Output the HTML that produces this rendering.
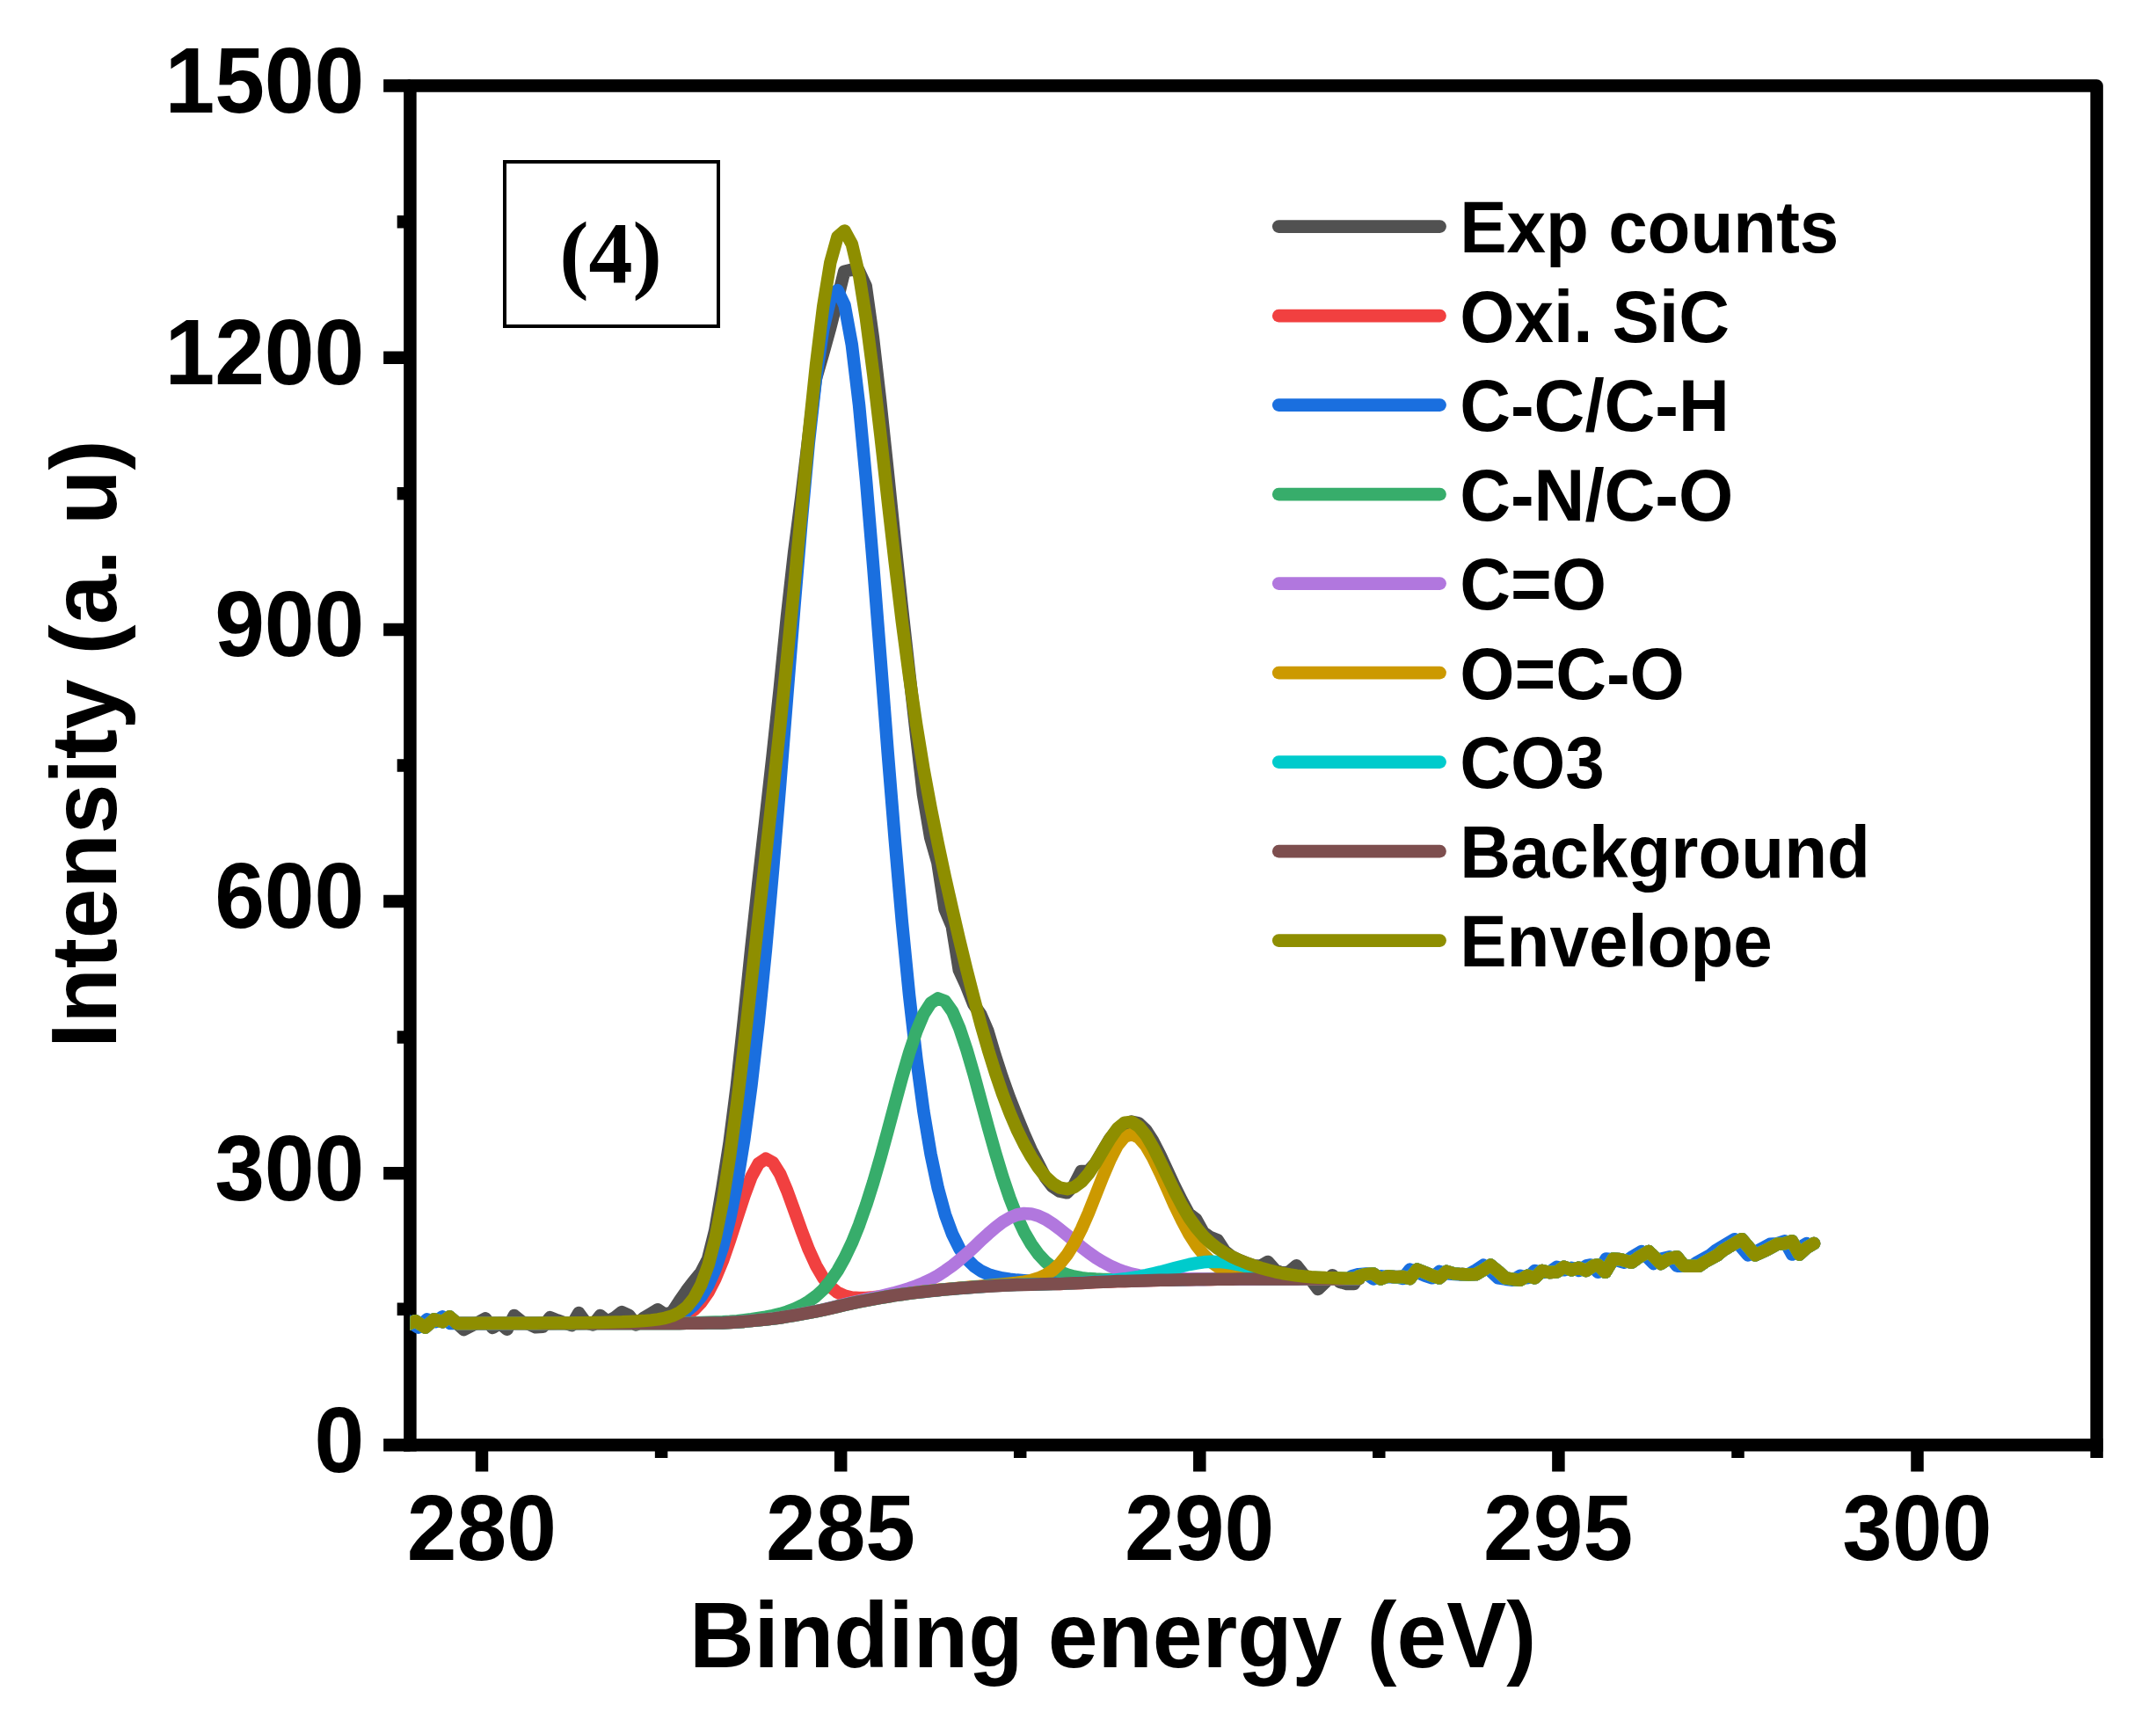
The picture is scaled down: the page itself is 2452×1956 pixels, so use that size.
<!DOCTYPE html>
<html><head><meta charset="utf-8"><title>XPS C1s (4)</title>
<style>html,body{margin:0;padding:0;background:#fff;overflow:hidden}svg{display:block}</style></head>
<body>
<svg width="2452" height="1956" viewBox="0 0 2452 1956">
<rect width="2452" height="1956" fill="#fff"/>
<g stroke="#000" stroke-width="14.5" fill="none">
<path d="M466.4,1650.55 V97.6 H2384.6 V1643.3" stroke-linejoin="round"/>
<path d="M459.15,1643.3 H2391.85"/>
<path d="M466.4,1643.3 h-30.25 M466.4,1334.2 h-30.25 M466.4,1025.0 h-30.25 M466.4,715.9 h-30.25 M466.4,406.7 h-30.25 M466.4,97.6 h-30.25 M466.4,1488.7 h-14.75 M466.4,1179.6 h-14.75 M466.4,870.4 h-14.75 M466.4,561.3 h-14.75 M466.4,252.2 h-14.75 M548.0,1643.3 v30.25 M956.2,1643.3 v30.25 M1364.3,1643.3 v30.25 M1772.4,1643.3 v30.25 M2180.5,1643.3 v30.25 M752.1,1643.3 v14.75 M1160.2,1643.3 v14.75 M1568.3,1643.3 v14.75 M1976.5,1643.3 v14.75 M2384.6,1643.3 v14.75"/>
</g>
<clipPath id="c"><rect x="466.4" y="97.6" width="1918.1999999999998" height="1545.7"/></clipPath>
<g clip-path="url(#c)" fill="none" stroke-width="14.5" stroke-linejoin="round" stroke-linecap="round">
<path d="M458.2,1508.3 L466.4,1504.9 L472.5,1502.2 L483.5,1509.6 L493.8,1500.3 L503.1,1503.2 L511.3,1497.5 L519.8,1504.9 L527.6,1512.1 L535.8,1507.9 L543.9,1503.8 L552.1,1499.3 L560.3,1510.0 L568.4,1504.8 L576.6,1511.8 L584.8,1496.0 L592.9,1502.7 L601.1,1505.7 L609.2,1509.3 L617.4,1508.7 L625.6,1498.1 L633.7,1501.4 L641.9,1504.4 L650.1,1507.1 L658.2,1493.1 L666.4,1504.2 L674.5,1506.4 L682.7,1496.0 L690.9,1502.7 L699.0,1498.4 L707.2,1492.1 L715.4,1495.8 L723.5,1506.5 L731.7,1499.0 L739.8,1494.2 L748.0,1489.3 L756.2,1494.8 L764.3,1492.4 L772.5,1479.9 L780.7,1468.0 L788.8,1457.3 L797.0,1447.5 L805.1,1431.7 L813.3,1398.9 L821.5,1350.9 L829.6,1299.5 L837.8,1235.3 L846.0,1159.5 L854.1,1080.5 L862.3,1004.9 L870.4,933.0 L878.6,859.7 L886.8,782.9 L894.9,701.8 L903.1,628.5 L911.3,565.6 L919.4,498.1 L927.6,431.5 L935.7,403.6 L943.9,373.8 L952.1,341.8 L960.2,308.8 L968.4,306.8 L976.6,307.8 L984.7,325.2 L992.9,384.1 L1001.0,454.5 L1009.2,532.0 L1017.4,611.6 L1025.5,687.7 L1033.7,761.4 L1041.9,834.4 L1050.0,903.8 L1058.2,952.6 L1066.3,980.7 L1074.5,1033.6 L1082.7,1053.1 L1090.8,1103.3 L1099.0,1121.0 L1107.2,1141.9 L1115.3,1153.7 L1123.5,1172.7 L1131.6,1200.1 L1139.8,1225.3 L1148.0,1248.1 L1156.1,1268.7 L1164.3,1288.6 L1172.5,1307.2 L1180.6,1322.9 L1188.8,1338.8 L1196.9,1349.2 L1205.1,1354.7 L1213.3,1356.3 L1221.4,1348.1 L1229.6,1332.0 L1237.8,1331.9 L1245.9,1322.8 L1254.1,1309.0 L1262.2,1295.3 L1270.4,1285.1 L1278.6,1278.8 L1286.7,1275.6 L1294.9,1277.3 L1303.1,1285.0 L1311.2,1297.5 L1319.4,1313.5 L1327.5,1331.1 L1335.7,1348.7 L1343.9,1365.3 L1352.0,1380.2 L1360.2,1386.5 L1368.4,1401.3 L1376.5,1407.1 L1384.7,1410.3 L1392.8,1422.7 L1401.0,1429.2 L1409.2,1433.0 L1417.3,1436.3 L1425.5,1439.2 L1433.7,1439.8 L1441.8,1434.9 L1450.0,1444.1 L1458.2,1447.9 L1466.3,1446.3 L1474.5,1439.2 L1482.6,1449.4 L1490.8,1455.2 L1499.0,1466.0 L1507.1,1458.2 L1515.3,1450.2 L1523.5,1457.7 L1531.6,1459.9 L1539.8,1460.0 L1545.5,1451.2 L1553.4,1449.1 L1561.7,1448.4 L1570.1,1454.4 L1578.4,1451.2 L1586.8,1452.2 L1595.1,1451.9 L1603.5,1454.0 L1611.8,1443.6 L1620.2,1447.0 L1628.5,1450.5 L1636.9,1453.3 L1645.2,1445.9 L1653.6,1448.4 L1661.9,1449.1 L1670.3,1449.4 L1678.6,1449.1 L1687.0,1444.3 L1695.3,1438.7 L1703.7,1445.7 L1712.0,1453.3 L1720.4,1454.7 L1728.7,1455.7 L1737.1,1450.8 L1745.4,1453.3 L1753.8,1445.0 L1762.1,1447.0 L1770.5,1446.4 L1778.8,1440.8 L1787.2,1444.3 L1795.5,1441.8 L1803.9,1445.0 L1812.2,1439.4 L1817.4,1438.4 L1825.7,1446.8 L1834.8,1431.5 L1843.1,1432.2 L1855.7,1435.7 L1865.4,1428.7 L1875.1,1423.1 L1889.0,1437.0 L1897.4,1431.5 L1907.1,1429.4 L1915.5,1439.8 L1932.2,1439.8 L1939.1,1435.0 L1953.1,1427.3 L1960.0,1421.7 L1967.0,1417.6 L1980.9,1409.2 L1996.2,1427.3 L2008.7,1421.7 L2021.2,1414.8 L2029.6,1414.1 L2037.9,1411.3 L2046.3,1426.6 L2054.6,1419.0 L2063.0,1414.1" stroke="#515151"/>
<path d="M458.2,1508.3 L466.4,1504.9 L472.5,1502.2 L483.5,1509.6 L493.8,1500.3 L503.1,1503.2 L511.3,1497.5 L519.8,1504.9 L519.5,1504.9 L519.9,1504.9 L528.0,1504.9 L536.2,1504.9 L544.4,1504.9 L552.5,1504.9 L560.7,1504.9 L568.8,1504.9 L577.0,1504.9 L585.2,1504.9 L593.3,1504.9 L601.5,1504.9 L609.7,1504.9 L617.8,1504.9 L626.0,1504.9 L634.1,1504.8 L642.3,1504.8 L650.5,1504.8 L658.6,1504.8 L666.8,1504.7 L675.0,1504.7 L683.1,1504.6 L691.3,1504.6 L699.4,1504.5 L707.6,1504.4 L715.8,1504.3 L723.9,1504.1 L732.1,1503.9 L740.3,1503.5 L748.4,1503.0 L756.6,1502.2 L764.7,1500.9 L772.9,1498.7 L781.1,1495.1 L789.2,1489.6 L797.4,1481.2 L805.6,1469.4 L813.7,1453.6 L821.9,1433.8 L830.0,1410.4 L838.2,1385.0 L846.4,1360.0 L854.5,1338.3 L862.7,1323.3 L870.9,1317.6 L879.0,1322.0 L887.2,1335.1 L895.3,1354.4 L903.5,1377.0 L911.7,1399.9 L919.8,1421.1 L928.0,1439.1 L936.2,1453.2 L944.3,1463.2 L952.5,1469.8 L960.6,1473.6 L968.8,1475.5 L977.0,1476.0 L985.1,1475.9 L993.3,1475.3 L1001.5,1474.4 L1009.6,1473.4 L1017.8,1472.4 L1025.9,1471.3 L1034.1,1470.4 L1042.3,1469.5 L1050.4,1468.6 L1058.6,1467.8 L1066.8,1467.0 L1074.9,1466.3 L1083.1,1465.6 L1091.2,1464.9 L1099.4,1464.3 L1107.6,1463.7 L1115.7,1463.1 L1123.9,1462.6 L1132.1,1462.1 L1140.2,1461.7 L1148.4,1461.3 L1156.5,1461.1 L1164.7,1460.8 L1172.9,1460.7 L1181.0,1460.5 L1189.2,1460.3 L1197.4,1460.1 L1205.5,1459.9 L1213.7,1459.6 L1221.8,1459.2 L1230.0,1458.9 L1238.2,1458.5 L1246.3,1458.1 L1254.5,1457.7 L1262.7,1457.4 L1270.8,1457.1 L1279.0,1456.9 L1287.1,1456.7 L1295.3,1456.4 L1303.5,1456.2 L1311.6,1456.0 L1319.8,1455.8 L1328.0,1455.7 L1336.1,1455.5 L1344.3,1455.3 L1352.4,1455.2 L1360.6,1455.1 L1368.8,1455.0 L1376.9,1454.9 L1385.1,1454.8 L1393.3,1454.8 L1401.4,1454.7 L1409.6,1454.6 L1417.7,1454.6 L1425.9,1454.6 L1434.1,1454.5 L1442.2,1454.5 L1450.4,1454.4 L1458.6,1454.4 L1466.7,1454.4 L1474.9,1454.4 L1483.0,1454.3 L1491.2,1454.3 L1499.4,1454.3 L1507.5,1454.3 L1515.7,1454.3 L1523.9,1454.2 L1532.0,1454.2 L1540.2,1454.2 L1545.5,1454.2 L1545.5,1451.2 L1553.4,1449.1 L1561.7,1448.4 L1570.1,1454.4 L1578.4,1451.2 L1586.8,1452.2 L1595.1,1451.9 L1603.5,1454.0 L1611.8,1443.6 L1620.2,1447.0 L1628.5,1450.5 L1636.9,1453.3 L1645.2,1445.9 L1653.6,1448.4 L1661.9,1449.1 L1670.3,1449.4 L1678.6,1449.1 L1687.0,1444.3 L1695.3,1438.7 L1703.7,1445.7 L1712.0,1453.3 L1720.4,1454.7 L1728.7,1455.7 L1737.1,1450.8 L1745.4,1453.3 L1753.8,1445.0 L1762.1,1447.0 L1770.5,1446.4 L1778.8,1440.8 L1787.2,1444.3 L1795.5,1441.8 L1803.9,1445.0 L1812.2,1439.4 L1817.4,1438.4 L1825.7,1446.8 L1834.8,1431.5 L1843.1,1432.2 L1855.7,1435.7 L1865.4,1428.7 L1875.1,1423.1 L1889.0,1437.0 L1897.4,1431.5 L1907.1,1429.4 L1915.5,1439.8 L1932.2,1439.8 L1939.1,1435.0 L1953.1,1427.3 L1960.0,1421.7 L1967.0,1417.6 L1980.9,1409.2 L1996.2,1427.3 L2008.7,1421.7 L2021.2,1414.8 L2029.6,1414.1 L2037.9,1411.3 L2046.3,1426.6 L2054.6,1419.0 L2063.0,1414.1" stroke="#F14040"/>
<path d="M450.1,1508.3 L458.2,1504.9 L464.4,1502.2 L475.4,1509.6 L485.7,1500.3 L495.0,1503.2 L503.1,1497.5 L511.6,1504.9 L519.5,1504.9 L519.9,1504.9 L528.0,1504.9 L536.2,1504.9 L544.4,1504.9 L552.5,1504.9 L560.7,1504.9 L568.8,1504.9 L577.0,1504.8 L585.2,1504.8 L593.3,1504.8 L601.5,1504.8 L609.7,1504.8 L617.8,1504.8 L626.0,1504.8 L634.1,1504.7 L642.3,1504.7 L650.5,1504.7 L658.6,1504.7 L666.8,1504.6 L675.0,1504.6 L683.1,1504.5 L691.3,1504.4 L699.4,1504.4 L707.6,1504.2 L715.8,1504.1 L723.9,1503.8 L732.1,1503.5 L740.3,1502.9 L748.4,1502.0 L756.6,1500.7 L764.7,1498.6 L772.9,1495.5 L781.1,1490.9 L789.2,1484.1 L797.4,1474.5 L805.6,1461.1 L813.7,1442.8 L821.9,1418.4 L830.0,1386.4 L838.2,1345.7 L846.4,1295.1 L854.5,1234.1 L862.7,1162.4 L870.9,1080.5 L879.0,989.6 L887.2,891.7 L895.3,790.0 L903.5,688.4 L911.7,591.3 L919.8,503.6 L928.0,429.9 L936.2,374.5 L944.3,340.4 L952.5,330.1 L960.6,347.2 L968.8,391.9 L977.0,460.3 L985.1,546.9 L993.3,645.5 L1001.5,750.0 L1009.6,854.9 L1017.8,955.7 L1025.9,1048.9 L1034.1,1132.0 L1042.3,1203.8 L1050.4,1263.9 L1058.6,1312.8 L1066.8,1351.4 L1074.9,1381.2 L1083.1,1403.5 L1091.2,1419.8 L1099.4,1431.5 L1107.6,1439.7 L1115.7,1445.4 L1123.9,1449.2 L1132.1,1451.7 L1140.2,1453.5 L1148.4,1454.7 L1156.5,1455.6 L1164.7,1456.2 L1172.9,1456.8 L1181.0,1457.1 L1189.2,1457.4 L1197.4,1457.6 L1205.5,1457.7 L1213.7,1457.7 L1221.8,1457.6 L1230.0,1457.5 L1238.2,1457.3 L1246.3,1457.1 L1254.5,1456.8 L1262.7,1456.6 L1270.8,1456.5 L1279.0,1456.3 L1287.1,1456.2 L1295.3,1456.0 L1303.5,1455.9 L1311.6,1455.7 L1319.8,1455.6 L1328.0,1455.4 L1336.1,1455.3 L1344.3,1455.2 L1352.4,1455.1 L1360.6,1455.0 L1368.8,1454.9 L1376.9,1454.8 L1385.1,1454.7 L1393.3,1454.7 L1401.4,1454.7 L1409.6,1454.6 L1417.7,1454.6 L1425.9,1454.5 L1434.1,1454.5 L1442.2,1454.5 L1450.4,1454.4 L1458.6,1454.4 L1466.7,1454.4 L1474.9,1454.4 L1483.0,1454.3 L1491.2,1454.3 L1499.4,1454.3 L1507.5,1454.3 L1515.7,1454.3 L1523.9,1454.2 L1532.0,1454.2 L1540.2,1454.2 L1545.5,1454.2 L1537.3,1451.2 L1545.2,1449.1 L1553.5,1448.4 L1561.9,1454.4 L1570.2,1451.2 L1578.6,1452.2 L1586.9,1451.9 L1595.3,1454.0 L1603.6,1443.6 L1612.0,1447.0 L1620.3,1450.5 L1628.7,1453.3 L1637.0,1445.9 L1645.4,1448.4 L1653.7,1449.1 L1662.1,1449.4 L1670.4,1449.1 L1678.8,1444.3 L1687.1,1438.7 L1695.5,1445.7 L1703.8,1453.3 L1712.2,1454.7 L1720.5,1455.7 L1728.9,1450.8 L1737.2,1453.3 L1745.6,1445.0 L1753.9,1447.0 L1762.3,1446.4 L1770.6,1440.8 L1779.0,1444.3 L1787.3,1441.8 L1795.7,1445.0 L1804.0,1439.4 L1809.2,1438.4 L1817.5,1446.8 L1826.6,1431.5 L1834.9,1432.2 L1847.5,1435.7 L1857.2,1428.7 L1866.9,1423.1 L1880.8,1437.0 L1889.2,1431.5 L1898.9,1429.4 L1907.3,1439.8 L1924.0,1439.8 L1930.9,1435.0 L1944.9,1427.3 L1951.8,1421.7 L1958.8,1417.6 L1972.7,1409.2 L1988.0,1427.3 L2000.5,1421.7 L2013.0,1414.8 L2021.4,1414.1 L2029.7,1411.3 L2038.1,1426.6 L2046.4,1419.0 L2054.8,1414.1" stroke="#1A6FDF"/>
<path d="M458.2,1508.3 L466.4,1504.9 L472.5,1502.2 L483.5,1509.6 L493.8,1500.3 L503.1,1503.2 L511.3,1497.5 L519.8,1504.9 L519.5,1504.9 L519.9,1504.9 L528.0,1504.9 L536.2,1504.9 L544.4,1504.9 L552.5,1504.9 L560.7,1504.9 L568.8,1504.9 L577.0,1504.9 L585.2,1504.9 L593.3,1504.9 L601.5,1504.9 L609.7,1504.9 L617.8,1504.9 L626.0,1504.9 L634.1,1504.9 L642.3,1504.9 L650.5,1504.9 L658.6,1504.9 L666.8,1504.8 L675.0,1504.8 L683.1,1504.8 L691.3,1504.8 L699.4,1504.8 L707.6,1504.8 L715.8,1504.7 L723.9,1504.7 L732.1,1504.7 L740.3,1504.7 L748.4,1504.6 L756.6,1504.6 L764.7,1504.5 L772.9,1504.4 L781.1,1504.3 L789.2,1504.2 L797.4,1504.0 L805.6,1503.8 L813.7,1503.6 L821.9,1503.3 L830.0,1502.8 L838.2,1502.1 L846.4,1501.2 L854.5,1500.2 L862.7,1499.0 L870.9,1497.7 L879.0,1496.1 L887.2,1494.1 L895.3,1491.6 L903.5,1488.5 L911.7,1484.7 L919.8,1479.9 L928.0,1474.0 L936.2,1466.5 L944.3,1456.9 L952.5,1445.1 L960.6,1430.6 L968.8,1413.4 L977.0,1393.2 L985.1,1370.2 L993.3,1344.3 L1001.5,1316.0 L1009.6,1286.1 L1017.8,1255.4 L1025.9,1225.3 L1034.1,1197.2 L1042.3,1172.7 L1050.4,1153.4 L1058.6,1140.6 L1066.8,1135.4 L1074.9,1138.6 L1083.1,1150.2 L1091.2,1169.1 L1099.4,1193.6 L1107.6,1221.7 L1115.7,1251.8 L1123.9,1282.1 L1132.1,1311.2 L1140.2,1338.2 L1148.4,1362.4 L1156.5,1383.2 L1164.7,1400.8 L1172.9,1415.0 L1181.0,1426.3 L1189.2,1435.0 L1197.4,1441.5 L1205.5,1446.2 L1213.7,1449.5 L1221.8,1451.7 L1230.0,1453.2 L1238.2,1454.1 L1246.3,1454.6 L1254.5,1454.9 L1262.7,1455.1 L1270.8,1455.2 L1279.0,1455.3 L1287.1,1455.3 L1295.3,1455.3 L1303.5,1455.2 L1311.6,1455.2 L1319.8,1455.1 L1328.0,1455.0 L1336.1,1454.9 L1344.3,1454.9 L1352.4,1454.8 L1360.6,1454.7 L1368.8,1454.7 L1376.9,1454.6 L1385.1,1454.6 L1393.3,1454.6 L1401.4,1454.5 L1409.6,1454.5 L1417.7,1454.5 L1425.9,1454.5 L1434.1,1454.4 L1442.2,1454.4 L1450.4,1454.4 L1458.6,1454.4 L1466.7,1454.3 L1474.9,1454.3 L1483.0,1454.3 L1491.2,1454.3 L1499.4,1454.3 L1507.5,1454.3 L1515.7,1454.2 L1523.9,1454.2 L1532.0,1454.2 L1540.2,1454.2 L1545.5,1454.2 L1545.5,1451.2 L1553.4,1449.1 L1561.7,1448.4 L1570.1,1454.4 L1578.4,1451.2 L1586.8,1452.2 L1595.1,1451.9 L1603.5,1454.0 L1611.8,1443.6 L1620.2,1447.0 L1628.5,1450.5 L1636.9,1453.3 L1645.2,1445.9 L1653.6,1448.4 L1661.9,1449.1 L1670.3,1449.4 L1678.6,1449.1 L1687.0,1444.3 L1695.3,1438.7 L1703.7,1445.7 L1712.0,1453.3 L1720.4,1454.7 L1728.7,1455.7 L1737.1,1450.8 L1745.4,1453.3 L1753.8,1445.0 L1762.1,1447.0 L1770.5,1446.4 L1778.8,1440.8 L1787.2,1444.3 L1795.5,1441.8 L1803.9,1445.0 L1812.2,1439.4 L1817.4,1438.4 L1825.7,1446.8 L1834.8,1431.5 L1843.1,1432.2 L1855.7,1435.7 L1865.4,1428.7 L1875.1,1423.1 L1889.0,1437.0 L1897.4,1431.5 L1907.1,1429.4 L1915.5,1439.8 L1932.2,1439.8 L1939.1,1435.0 L1953.1,1427.3 L1960.0,1421.7 L1967.0,1417.6 L1980.9,1409.2 L1996.2,1427.3 L2008.7,1421.7 L2021.2,1414.8 L2029.6,1414.1 L2037.9,1411.3 L2046.3,1426.6 L2054.6,1419.0 L2063.0,1414.1" stroke="#37AD6B"/>
<path d="M458.2,1508.3 L466.4,1504.9 L472.5,1502.2 L483.5,1509.6 L493.8,1500.3 L503.1,1503.2 L511.3,1497.5 L519.8,1504.9 L519.5,1504.9 L519.9,1504.9 L528.0,1504.9 L536.2,1504.9 L544.4,1504.9 L552.5,1504.9 L560.7,1504.9 L568.8,1504.9 L577.0,1504.9 L585.2,1504.9 L593.3,1504.9 L601.5,1504.9 L609.7,1504.9 L617.8,1504.9 L626.0,1504.9 L634.1,1504.9 L642.3,1504.9 L650.5,1504.9 L658.6,1504.9 L666.8,1504.9 L675.0,1504.9 L683.1,1504.9 L691.3,1504.9 L699.4,1504.9 L707.6,1504.9 L715.8,1504.9 L723.9,1504.9 L732.1,1504.9 L740.3,1504.9 L748.4,1504.9 L756.6,1504.9 L764.7,1504.9 L772.9,1504.9 L781.1,1504.8 L789.2,1504.8 L797.4,1504.7 L805.6,1504.6 L813.7,1504.5 L821.9,1504.3 L830.0,1503.9 L838.2,1503.4 L846.4,1502.8 L854.5,1502.0 L862.7,1501.2 L870.9,1500.4 L879.0,1499.5 L887.2,1498.4 L895.3,1497.1 L903.5,1495.6 L911.7,1494.1 L919.8,1492.6 L928.0,1491.0 L936.2,1489.3 L944.3,1487.4 L952.5,1485.4 L960.6,1483.4 L968.8,1481.4 L977.0,1479.5 L985.1,1477.7 L993.3,1475.9 L1001.5,1474.1 L1009.6,1472.1 L1017.8,1470.0 L1025.9,1467.7 L1034.1,1465.2 L1042.3,1462.3 L1050.4,1458.9 L1058.6,1455.0 L1066.8,1450.5 L1074.9,1445.2 L1083.1,1439.4 L1091.2,1432.8 L1099.4,1425.8 L1107.6,1418.3 L1115.7,1410.6 L1123.9,1403.1 L1132.1,1396.0 L1140.2,1389.8 L1148.4,1384.9 L1156.5,1381.5 L1164.7,1380.0 L1172.9,1380.4 L1181.0,1382.7 L1189.2,1386.6 L1197.4,1391.9 L1205.5,1398.0 L1213.7,1404.7 L1221.8,1411.5 L1230.0,1418.2 L1238.2,1424.5 L1246.3,1430.2 L1254.5,1435.2 L1262.7,1439.6 L1270.8,1443.2 L1279.0,1446.2 L1287.1,1448.6 L1295.3,1450.4 L1303.5,1451.7 L1311.6,1452.6 L1319.8,1453.3 L1328.0,1453.7 L1336.1,1454.0 L1344.3,1454.2 L1352.4,1454.3 L1360.6,1454.3 L1368.8,1454.4 L1376.9,1454.4 L1385.1,1454.4 L1393.3,1454.4 L1401.4,1454.4 L1409.6,1454.4 L1417.7,1454.4 L1425.9,1454.4 L1434.1,1454.3 L1442.2,1454.3 L1450.4,1454.3 L1458.6,1454.3 L1466.7,1454.3 L1474.9,1454.3 L1483.0,1454.3 L1491.2,1454.3 L1499.4,1454.2 L1507.5,1454.2 L1515.7,1454.2 L1523.9,1454.2 L1532.0,1454.2 L1540.2,1454.2 L1545.5,1454.2 L1545.5,1451.2 L1553.4,1449.1 L1561.7,1448.4 L1570.1,1454.4 L1578.4,1451.2 L1586.8,1452.2 L1595.1,1451.9 L1603.5,1454.0 L1611.8,1443.6 L1620.2,1447.0 L1628.5,1450.5 L1636.9,1453.3 L1645.2,1445.9 L1653.6,1448.4 L1661.9,1449.1 L1670.3,1449.4 L1678.6,1449.1 L1687.0,1444.3 L1695.3,1438.7 L1703.7,1445.7 L1712.0,1453.3 L1720.4,1454.7 L1728.7,1455.7 L1737.1,1450.8 L1745.4,1453.3 L1753.8,1445.0 L1762.1,1447.0 L1770.5,1446.4 L1778.8,1440.8 L1787.2,1444.3 L1795.5,1441.8 L1803.9,1445.0 L1812.2,1439.4 L1817.4,1438.4 L1825.7,1446.8 L1834.8,1431.5 L1843.1,1432.2 L1855.7,1435.7 L1865.4,1428.7 L1875.1,1423.1 L1889.0,1437.0 L1897.4,1431.5 L1907.1,1429.4 L1915.5,1439.8 L1932.2,1439.8 L1939.1,1435.0 L1953.1,1427.3 L1960.0,1421.7 L1967.0,1417.6 L1980.9,1409.2 L1996.2,1427.3 L2008.7,1421.7 L2021.2,1414.8 L2029.6,1414.1 L2037.9,1411.3 L2046.3,1426.6 L2054.6,1419.0 L2063.0,1414.1" stroke="#B177DE"/>
<path d="M458.2,1508.3 L466.4,1504.9 L472.5,1502.2 L483.5,1509.6 L493.8,1500.3 L503.1,1503.2 L511.3,1497.5 L519.8,1504.9 L519.5,1504.9 L519.9,1504.9 L528.0,1504.9 L536.2,1504.9 L544.4,1504.9 L552.5,1504.9 L560.7,1504.9 L568.8,1504.9 L577.0,1504.9 L585.2,1504.9 L593.3,1504.9 L601.5,1504.9 L609.7,1504.9 L617.8,1504.9 L626.0,1504.9 L634.1,1504.9 L642.3,1504.9 L650.5,1504.9 L658.6,1504.9 L666.8,1504.9 L675.0,1504.9 L683.1,1504.9 L691.3,1504.9 L699.4,1504.9 L707.6,1504.9 L715.8,1504.9 L723.9,1504.9 L732.1,1504.9 L740.3,1504.9 L748.4,1504.9 L756.6,1504.9 L764.7,1504.9 L772.9,1504.9 L781.1,1504.8 L789.2,1504.8 L797.4,1504.7 L805.6,1504.6 L813.7,1504.5 L821.9,1504.4 L830.0,1504.0 L838.2,1503.5 L846.4,1502.9 L854.5,1502.1 L862.7,1501.3 L870.9,1500.5 L879.0,1499.6 L887.2,1498.5 L895.3,1497.2 L903.5,1495.8 L911.7,1494.4 L919.8,1492.9 L928.0,1491.3 L936.2,1489.7 L944.3,1487.8 L952.5,1485.9 L960.6,1484.0 L968.8,1482.1 L977.0,1480.3 L985.1,1478.8 L993.3,1477.3 L1001.5,1475.9 L1009.6,1474.5 L1017.8,1473.2 L1025.9,1472.0 L1034.1,1470.8 L1042.3,1469.8 L1050.4,1468.8 L1058.6,1467.9 L1066.8,1467.0 L1074.9,1466.2 L1083.1,1465.4 L1091.2,1464.7 L1099.4,1464.0 L1107.6,1463.3 L1115.7,1462.6 L1123.9,1461.9 L1132.1,1461.2 L1140.2,1460.5 L1148.4,1459.7 L1156.5,1458.8 L1164.7,1457.7 L1172.9,1456.0 L1181.0,1453.5 L1189.2,1449.8 L1197.4,1444.5 L1205.5,1437.0 L1213.7,1426.8 L1221.8,1413.7 L1230.0,1397.5 L1238.2,1378.8 L1246.3,1358.4 L1254.5,1337.7 L1262.7,1318.4 L1270.8,1302.7 L1279.0,1292.7 L1287.1,1289.8 L1295.3,1293.7 L1303.5,1303.3 L1311.6,1317.5 L1319.8,1334.5 L1328.0,1352.9 L1336.1,1371.2 L1344.3,1388.2 L1352.4,1403.4 L1360.6,1416.2 L1368.8,1426.5 L1376.9,1434.6 L1385.1,1440.6 L1393.3,1444.9 L1401.4,1447.9 L1409.6,1449.9 L1417.7,1451.3 L1425.9,1452.1 L1434.1,1452.7 L1442.2,1453.1 L1450.4,1453.4 L1458.6,1453.5 L1466.7,1453.7 L1474.9,1453.8 L1483.0,1453.8 L1491.2,1453.9 L1499.4,1453.9 L1507.5,1454.0 L1515.7,1454.0 L1523.9,1454.0 L1532.0,1454.1 L1540.2,1454.1 L1545.5,1454.1 L1545.5,1451.2 L1553.4,1449.1 L1561.7,1448.4 L1570.1,1454.4 L1578.4,1451.2 L1586.8,1452.2 L1595.1,1451.9 L1603.5,1454.0 L1611.8,1443.6 L1620.2,1447.0 L1628.5,1450.5 L1636.9,1453.3 L1645.2,1445.9 L1653.6,1448.4 L1661.9,1449.1 L1670.3,1449.4 L1678.6,1449.1 L1687.0,1444.3 L1695.3,1438.7 L1703.7,1445.7 L1712.0,1453.3 L1720.4,1454.7 L1728.7,1455.7 L1737.1,1450.8 L1745.4,1453.3 L1753.8,1445.0 L1762.1,1447.0 L1770.5,1446.4 L1778.8,1440.8 L1787.2,1444.3 L1795.5,1441.8 L1803.9,1445.0 L1812.2,1439.4 L1817.4,1438.4 L1825.7,1446.8 L1834.8,1431.5 L1843.1,1432.2 L1855.7,1435.7 L1865.4,1428.7 L1875.1,1423.1 L1889.0,1437.0 L1897.4,1431.5 L1907.1,1429.4 L1915.5,1439.8 L1932.2,1439.8 L1939.1,1435.0 L1953.1,1427.3 L1960.0,1421.7 L1967.0,1417.6 L1980.9,1409.2 L1996.2,1427.3 L2008.7,1421.7 L2021.2,1414.8 L2029.6,1414.1 L2037.9,1411.3 L2046.3,1426.6 L2054.6,1419.0 L2063.0,1414.1" stroke="#CC9900"/>
<path d="M458.2,1508.3 L466.4,1504.9 L472.5,1502.2 L483.5,1509.6 L493.8,1500.3 L503.1,1503.2 L511.3,1497.5 L519.8,1504.9 L519.5,1504.9 L519.9,1504.9 L528.0,1504.9 L536.2,1504.9 L544.4,1504.9 L552.5,1504.9 L560.7,1504.9 L568.8,1504.9 L577.0,1504.9 L585.2,1504.9 L593.3,1504.9 L601.5,1504.9 L609.7,1504.9 L617.8,1504.9 L626.0,1504.9 L634.1,1504.9 L642.3,1504.9 L650.5,1504.9 L658.6,1504.9 L666.8,1504.9 L675.0,1504.9 L683.1,1504.9 L691.3,1504.9 L699.4,1504.9 L707.6,1504.9 L715.8,1504.9 L723.9,1504.9 L732.1,1504.9 L740.3,1504.9 L748.4,1504.9 L756.6,1504.9 L764.7,1504.9 L772.9,1504.9 L781.1,1504.8 L789.2,1504.8 L797.4,1504.7 L805.6,1504.6 L813.7,1504.5 L821.9,1504.4 L830.0,1504.0 L838.2,1503.5 L846.4,1502.9 L854.5,1502.1 L862.7,1501.3 L870.9,1500.5 L879.0,1499.6 L887.2,1498.5 L895.3,1497.2 L903.5,1495.8 L911.7,1494.4 L919.8,1492.9 L928.0,1491.3 L936.2,1489.7 L944.3,1487.8 L952.5,1485.9 L960.6,1484.0 L968.8,1482.1 L977.0,1480.4 L985.1,1478.8 L993.3,1477.3 L1001.5,1475.9 L1009.6,1474.5 L1017.8,1473.2 L1025.9,1472.0 L1034.1,1470.9 L1042.3,1469.9 L1050.4,1469.0 L1058.6,1468.1 L1066.8,1467.2 L1074.9,1466.4 L1083.1,1465.7 L1091.2,1465.0 L1099.4,1464.4 L1107.6,1463.8 L1115.7,1463.2 L1123.9,1462.6 L1132.1,1462.1 L1140.2,1461.7 L1148.4,1461.3 L1156.5,1461.0 L1164.7,1460.8 L1172.9,1460.6 L1181.0,1460.4 L1189.2,1460.2 L1197.4,1460.0 L1205.5,1459.7 L1213.7,1459.4 L1221.8,1458.9 L1230.0,1458.5 L1238.2,1457.9 L1246.3,1457.4 L1254.5,1456.7 L1262.7,1456.0 L1270.8,1455.2 L1279.0,1454.3 L1287.1,1453.1 L1295.3,1451.8 L1303.5,1450.2 L1311.6,1448.4 L1319.8,1446.4 L1328.0,1444.2 L1336.1,1442.1 L1344.3,1440.0 L1352.4,1438.0 L1360.6,1436.5 L1368.8,1435.3 L1376.9,1434.8 L1385.1,1434.9 L1393.3,1435.6 L1401.4,1436.8 L1409.6,1438.4 L1417.7,1440.2 L1425.9,1442.2 L1434.1,1444.1 L1442.2,1445.9 L1450.4,1447.6 L1458.6,1449.1 L1466.7,1450.3 L1474.9,1451.3 L1483.0,1452.1 L1491.2,1452.7 L1499.4,1453.1 L1507.5,1453.4 L1515.7,1453.7 L1523.9,1453.8 L1532.0,1453.9 L1540.2,1454.0 L1545.5,1454.0 L1545.5,1451.2 L1553.4,1449.1 L1561.7,1448.4 L1570.1,1454.4 L1578.4,1451.2 L1586.8,1452.2 L1595.1,1451.9 L1603.5,1454.0 L1611.8,1443.6 L1620.2,1447.0 L1628.5,1450.5 L1636.9,1453.3 L1645.2,1445.9 L1653.6,1448.4 L1661.9,1449.1 L1670.3,1449.4 L1678.6,1449.1 L1687.0,1444.3 L1695.3,1438.7 L1703.7,1445.7 L1712.0,1453.3 L1720.4,1454.7 L1728.7,1455.7 L1737.1,1450.8 L1745.4,1453.3 L1753.8,1445.0 L1762.1,1447.0 L1770.5,1446.4 L1778.8,1440.8 L1787.2,1444.3 L1795.5,1441.8 L1803.9,1445.0 L1812.2,1439.4 L1817.4,1438.4 L1825.7,1446.8 L1834.8,1431.5 L1843.1,1432.2 L1855.7,1435.7 L1865.4,1428.7 L1875.1,1423.1 L1889.0,1437.0 L1897.4,1431.5 L1907.1,1429.4 L1915.5,1439.8 L1932.2,1439.8 L1939.1,1435.0 L1953.1,1427.3 L1960.0,1421.7 L1967.0,1417.6 L1980.9,1409.2 L1996.2,1427.3 L2008.7,1421.7 L2021.2,1414.8 L2029.6,1414.1 L2037.9,1411.3 L2046.3,1426.6 L2054.6,1419.0 L2063.0,1414.1" stroke="#00CBCC"/>
<path d="M519.5,1504.9 L519.9,1504.9 L528.0,1504.9 L536.2,1504.9 L544.4,1504.9 L552.5,1504.9 L560.7,1504.9 L568.8,1504.9 L577.0,1504.9 L585.2,1504.9 L593.3,1504.9 L601.5,1504.9 L609.7,1504.9 L617.8,1504.9 L626.0,1504.9 L634.1,1504.9 L642.3,1504.9 L650.5,1504.9 L658.6,1504.9 L666.8,1504.9 L675.0,1504.9 L683.1,1504.9 L691.3,1504.9 L699.4,1504.9 L707.6,1504.9 L715.8,1504.9 L723.9,1504.9 L732.1,1504.9 L740.3,1504.9 L748.4,1504.9 L756.6,1504.9 L764.7,1504.9 L772.9,1504.9 L781.1,1504.8 L789.2,1504.8 L797.4,1504.7 L805.6,1504.6 L813.7,1504.5 L821.9,1504.4 L830.0,1504.0 L838.2,1503.5 L846.4,1502.9 L854.5,1502.1 L862.7,1501.3 L870.9,1500.5 L879.0,1499.6 L887.2,1498.5 L895.3,1497.2 L903.5,1495.8 L911.7,1494.4 L919.8,1492.9 L928.0,1491.3 L936.2,1489.7 L944.3,1487.9 L952.5,1485.9 L960.6,1484.0 L968.8,1482.1 L977.0,1480.4 L985.1,1478.8 L993.3,1477.3 L1001.5,1475.9 L1009.6,1474.5 L1017.8,1473.2 L1025.9,1472.0 L1034.1,1470.9 L1042.3,1469.9 L1050.4,1469.0 L1058.6,1468.1 L1066.8,1467.2 L1074.9,1466.4 L1083.1,1465.7 L1091.2,1465.0 L1099.4,1464.4 L1107.6,1463.8 L1115.7,1463.2 L1123.9,1462.7 L1132.1,1462.2 L1140.2,1461.7 L1148.4,1461.4 L1156.5,1461.1 L1164.7,1460.9 L1172.9,1460.7 L1181.0,1460.5 L1189.2,1460.3 L1197.4,1460.1 L1205.5,1459.9 L1213.7,1459.6 L1221.8,1459.2 L1230.0,1458.9 L1238.2,1458.5 L1246.3,1458.1 L1254.5,1457.7 L1262.7,1457.4 L1270.8,1457.1 L1279.0,1456.9 L1287.1,1456.7 L1295.3,1456.4 L1303.5,1456.2 L1311.6,1456.0 L1319.8,1455.8 L1328.0,1455.7 L1336.1,1455.5 L1344.3,1455.3 L1352.4,1455.2 L1360.6,1455.1 L1368.8,1455.0 L1376.9,1454.9 L1385.1,1454.8 L1393.3,1454.8 L1401.4,1454.7 L1409.6,1454.6 L1417.7,1454.6 L1425.9,1454.6 L1434.1,1454.5 L1442.2,1454.5 L1450.4,1454.4 L1458.6,1454.4 L1466.7,1454.4 L1474.9,1454.4 L1483.0,1454.3 L1491.2,1454.3 L1499.4,1454.3 L1507.5,1454.3 L1515.7,1454.3 L1523.9,1454.2 L1532.0,1454.2 L1540.2,1454.2 L1545.5,1454.2" stroke="#7D4E4E"/>
<path d="M458.2,1508.3 L466.4,1504.9 L472.5,1502.2 L483.5,1509.6 L493.8,1500.3 L503.1,1503.2 L511.3,1497.5 L519.8,1504.9 L519.5,1504.9 L519.9,1504.9 L528.0,1504.9 L536.2,1504.9 L544.4,1504.8 L552.5,1504.8 L560.7,1504.8 L568.8,1504.8 L577.0,1504.8 L585.2,1504.8 L593.3,1504.7 L601.5,1504.7 L609.7,1504.7 L617.8,1504.6 L626.0,1504.6 L634.1,1504.5 L642.3,1504.4 L650.5,1504.4 L658.6,1504.3 L666.8,1504.2 L675.0,1504.0 L683.1,1503.9 L691.3,1503.7 L699.4,1503.5 L707.6,1503.3 L715.8,1502.9 L723.9,1502.6 L732.1,1502.1 L740.3,1501.4 L748.4,1500.4 L756.6,1498.8 L764.7,1496.4 L772.9,1492.5 L781.1,1486.2 L789.2,1476.2 L797.4,1461.0 L805.6,1438.6 L813.7,1407.5 L821.9,1366.5 L830.0,1315.2 L838.2,1254.9 L846.4,1187.7 L854.5,1116.6 L862.7,1044.4 L870.9,972.6 L879.0,900.4 L887.2,825.7 L895.3,747.0 L903.5,664.0 L911.7,578.5 L919.8,494.0 L928.0,415.6 L936.2,348.7 L944.3,298.6 L952.5,269.2 L960.6,262.4 L968.8,277.4 L977.0,312.2 L985.1,363.2 L993.3,426.0 L1001.5,495.8 L1009.6,568.4 L1017.8,639.8 L1025.9,707.4 L1034.1,769.3 L1042.3,824.9 L1050.4,874.4 L1058.6,918.9 L1066.8,959.6 L1074.9,997.7 L1083.1,1034.1 L1091.2,1069.1 L1099.4,1102.9 L1107.6,1135.1 L1115.7,1165.6 L1123.9,1194.1 L1132.1,1220.3 L1140.2,1244.1 L1148.4,1265.5 L1156.5,1284.5 L1164.7,1301.1 L1172.9,1315.6 L1181.0,1328.0 L1189.2,1338.2 L1197.4,1345.9 L1205.5,1350.7 L1213.7,1352.2 L1221.8,1350.0 L1230.0,1344.0 L1238.2,1334.5 L1246.3,1322.2 L1254.5,1308.3 L1262.7,1294.7 L1270.8,1283.4 L1279.0,1276.6 L1287.1,1275.9 L1295.3,1281.1 L1303.5,1291.2 L1311.6,1305.1 L1319.8,1321.4 L1328.0,1338.6 L1336.1,1355.4 L1344.3,1371.0 L1352.4,1384.7 L1360.6,1396.3 L1368.8,1405.9 L1376.9,1413.6 L1385.1,1419.9 L1393.3,1425.0 L1401.4,1429.4 L1409.6,1433.1 L1417.7,1436.4 L1425.9,1439.4 L1434.1,1442.0 L1442.2,1444.3 L1450.4,1446.3 L1458.6,1448.0 L1466.7,1449.4 L1474.9,1450.6 L1483.0,1451.5 L1491.2,1452.2 L1499.4,1452.7 L1507.5,1453.1 L1515.7,1453.3 L1523.9,1453.5 L1532.0,1453.7 L1540.2,1453.8 L1545.5,1453.8 L1545.5,1451.2 L1553.4,1449.1 L1561.7,1448.4 L1570.1,1454.4 L1578.4,1451.2 L1586.8,1452.2 L1595.1,1451.9 L1603.5,1454.0 L1611.8,1443.6 L1620.2,1447.0 L1628.5,1450.5 L1636.9,1453.3 L1645.2,1445.9 L1653.6,1448.4 L1661.9,1449.1 L1670.3,1449.4 L1678.6,1449.1 L1687.0,1444.3 L1695.3,1438.7 L1703.7,1445.7 L1712.0,1453.3 L1720.4,1454.7 L1728.7,1455.7 L1737.1,1450.8 L1745.4,1453.3 L1753.8,1445.0 L1762.1,1447.0 L1770.5,1446.4 L1778.8,1440.8 L1787.2,1444.3 L1795.5,1441.8 L1803.9,1445.0 L1812.2,1439.4 L1817.4,1438.4 L1825.7,1446.8 L1834.8,1431.5 L1843.1,1432.2 L1855.7,1435.7 L1865.4,1428.7 L1875.1,1423.1 L1889.0,1437.0 L1897.4,1431.5 L1907.1,1429.4 L1915.5,1439.8 L1932.2,1439.8 L1939.1,1435.0 L1953.1,1427.3 L1960.0,1421.7 L1967.0,1417.6 L1980.9,1409.2 L1996.2,1427.3 L2008.7,1421.7 L2021.2,1414.8 L2029.6,1414.1 L2037.9,1411.3 L2046.3,1426.6 L2054.6,1419.0 L2063.0,1414.1" stroke="#8E8E00"/>
</g>
<g font-family="'Liberation Sans', Arial, sans-serif" font-weight="bold" fill="#000" font-size="102">
<text transform="translate(414.3,1673.7) scale(1,1.04)" text-anchor="end">0</text>
<text transform="translate(414.3,1364.6) scale(1,1.04)" text-anchor="end">300</text>
<text transform="translate(414.3,1055.4) scale(1,1.04)" text-anchor="end">600</text>
<text transform="translate(414.3,746.3) scale(1,1.04)" text-anchor="end">900</text>
<text transform="translate(414.3,437.1) scale(1,1.04)" text-anchor="end">1200</text>
<text transform="translate(414.3,128.0) scale(1,1.04)" text-anchor="end">1500</text>
<text transform="translate(547.8,1774.0) scale(1,1.04)" text-anchor="middle">280</text>
<text transform="translate(956.0,1774.0) scale(1,1.04)" text-anchor="middle">285</text>
<text transform="translate(1364.1,1774.0) scale(1,1.04)" text-anchor="middle">290</text>
<text transform="translate(1772.2,1774.0) scale(1,1.04)" text-anchor="middle">295</text>
<text transform="translate(2180.3,1774.0) scale(1,1.04)" text-anchor="middle">300</text>
<text transform="translate(1265.6,1896.0) scale(1,1.04)" text-anchor="middle">Binding energy (eV)</text>
<text transform="translate(131.5,846.2) rotate(-90) scale(1,1.04)" text-anchor="middle">Intensity (a. u)</text>
<path d="M1454.2,257.6 H1637.6" stroke="#515151" stroke-width="14.6" stroke-linecap="round"/>
<text transform="translate(1660.2,287.2) scale(1,1.04)" font-size="80">Exp counts</text>
<path d="M1454.2,359.1 H1637.6" stroke="#F14040" stroke-width="14.6" stroke-linecap="round"/>
<text transform="translate(1660.2,388.7) scale(1,1.04)" font-size="80">Oxi. SiC</text>
<path d="M1454.2,460.6 H1637.6" stroke="#1A6FDF" stroke-width="14.6" stroke-linecap="round"/>
<text transform="translate(1660.2,490.2) scale(1,1.04)" font-size="80">C-C/C-H</text>
<path d="M1454.2,562.1 H1637.6" stroke="#37AD6B" stroke-width="14.6" stroke-linecap="round"/>
<text transform="translate(1660.2,591.7) scale(1,1.04)" font-size="80">C-N/C-O</text>
<path d="M1454.2,663.6 H1637.6" stroke="#B177DE" stroke-width="14.6" stroke-linecap="round"/>
<text transform="translate(1660.2,693.2) scale(1,1.04)" font-size="80">C=O</text>
<path d="M1454.2,765.1 H1637.6" stroke="#CC9900" stroke-width="14.6" stroke-linecap="round"/>
<text transform="translate(1660.2,794.7) scale(1,1.04)" font-size="80">O=C-O</text>
<path d="M1454.2,866.6 H1637.6" stroke="#00CBCC" stroke-width="14.6" stroke-linecap="round"/>
<text transform="translate(1660.2,896.2) scale(1,1.04)" font-size="80">CO3</text>
<path d="M1454.2,968.1 H1637.6" stroke="#7D4E4E" stroke-width="14.6" stroke-linecap="round"/>
<text transform="translate(1660.2,997.7) scale(1,1.04)" font-size="80">Background</text>
<path d="M1454.2,1069.6 H1637.6" stroke="#8E8E00" stroke-width="14.6" stroke-linecap="round"/>
<text transform="translate(1660.2,1099.2) scale(1,1.04)" font-size="80">Envelope</text>
</g>
<rect x="574" y="184" width="243" height="187" fill="#fff" stroke="#000" stroke-width="4"/>
<text x="694.5" y="321" font-family="'Liberation Serif', 'Times New Roman', serif" font-weight="bold" font-size="100" text-anchor="middle">(4)</text>
</svg>
</body></html>
